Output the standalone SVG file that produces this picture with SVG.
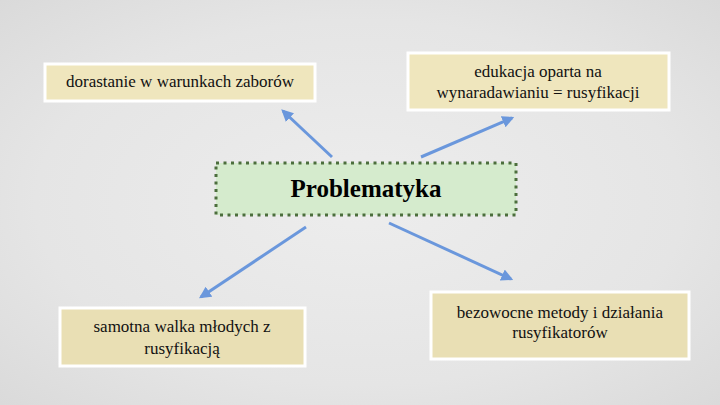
<svg xmlns="http://www.w3.org/2000/svg" width="720" height="405" viewBox="0 0 720 405">
  <defs>
    <radialGradient id="bg" cx="50%" cy="50%" r="75%">
      <stop offset="0" stop-color="#ededed"/>
      <stop offset="0.6" stop-color="#e5e5e5"/>
      <stop offset="1" stop-color="#d8d8d8"/>
    </radialGradient>
    <marker id="ah" viewBox="0 0 10 10" refX="8" refY="5" markerWidth="4" markerHeight="4" orient="auto" markerUnits="strokeWidth">
      <path d="M0,0 L10,5 L0,10 z" fill="#6a97dc"/>
    </marker>
    <style>
      .box { fill: #efe6bd; stroke: #ffffff; stroke-width: 3; }
      .boxb { fill: #e9dfb4; stroke: #ffffff; stroke-width: 3; }
      .t { font-family: "Liberation Serif", "DejaVu Serif", "Times New Roman", serif; font-size: 17px; fill: #111; text-anchor: middle; }
      .center { fill: #d5ebcd; stroke: #4c6e3d; stroke-width: 3; stroke-dasharray: 3 4.5; }
      .ct { font-family: "Liberation Serif", "DejaVu Serif", "Times New Roman", serif; font-size: 25px; font-weight: bold; fill: #000; text-anchor: middle; }
      .arr { stroke: #6a97dc; stroke-width: 3; fill: none; marker-end: url(#ah); }
    </style>
  </defs>
  <rect width="720" height="405" fill="url(#bg)"/>

  <g id="connectors">
    <line class="arr" x1="332" y1="157" x2="283" y2="111"/>
    <line class="arr" x1="421" y1="157" x2="512" y2="118"/>
    <line class="arr" x1="306" y1="227" x2="201" y2="297"/>
    <line class="arr" x1="389" y1="223" x2="511" y2="279"/>
  </g>

  <g id="node-center">
    <rect class="center" x="216" y="163" width="300" height="52"/>
    <text class="ct" x="366" y="197">Problematyka</text>
  </g>

  <g id="node-zabory">
    <rect class="box" x="45" y="64" width="270" height="37"/>
    <text class="t" x="180" y="87">dorastanie w warunkach zaborów</text>
  </g>

  <g id="node-edukacja">
    <rect class="box" x="408" y="53" width="261" height="57"/>
    <text class="t" x="538" y="77">edukacja oparta na</text>
    <text class="t" x="538" y="98">wynaradawianiu = rusyfikacji</text>
  </g>

  <g id="node-samotna">
    <rect class="boxb" x="60" y="308" width="245" height="58"/>
    <text class="t" x="182" y="332">samotna walka młodych z</text>
    <text class="t" x="182" y="354">rusyfikacją</text>
  </g>

  <g id="node-bezowocne">
    <rect class="boxb" x="431" y="292" width="258" height="67"/>
    <text class="t" x="560" y="318">bezowocne metody i działania</text>
    <text class="t" x="560" y="338">rusyfikatorów</text>
  </g>
</svg>
